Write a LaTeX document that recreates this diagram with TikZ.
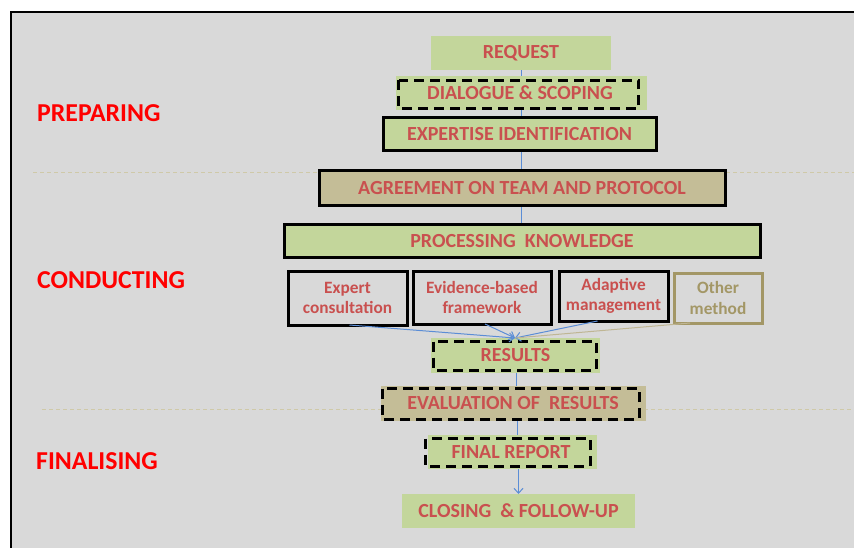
\documentclass[tikz,border=0pt]{standalone}
\usepackage{fontspec}
\setmainfont{Carlito}
\usetikzlibrary{arrows.meta}
\definecolor{bggray}{HTML}{D9D9D9}
\definecolor{boxgreen}{HTML}{C3D69B}
\definecolor{boxtan}{HTML}{C4BD97}
\definecolor{txtred}{HTML}{C9504F}
\definecolor{linkblue}{HTML}{5B8DD6}
\definecolor{olive}{HTML}{A39766}
\definecolor{sepline}{HTML}{CFC9A8}
\tikzset{
  stagebox/.style={draw=none, inner sep=0pt, outer sep=0pt, text=txtred,
    font=\fontsize{20}{23}\selectfont\bfseries},
  greenfill/.style={stagebox, fill=boxgreen},
  tanfill/.style={stagebox, fill=boxtan},
  solidframe/.style={draw=black, line width=3pt},
  dashframe/.style={draw=black, line width=3pt, dash pattern=on 10pt off 6pt},
  methodbox/.style={draw=black, line width=3pt, inner sep=0pt, outer sep=0pt,
    text=txtred, align=center, font=\fontsize{17.3}{20.5}\selectfont\bfseries},
  phase/.style={anchor=west, text=red, inner sep=0pt,
    font=\fontsize{25.8}{29}\selectfont\bfseries},
  link/.style={draw=linkblue, line width=1pt},
  linkarrow/.style={link, -{Straight Barb[length=5pt,width=9pt]}},
  separator/.style={draw=sepline, line width=1pt, dash pattern=on 4pt off 3pt},
}
\begin{document}
\begin{tikzpicture}[x=1pt,y=-1pt]
\useasboundingbox (0,0) rectangle (854,548);
\fill[white] (0,0) rectangle (854,548);
\begin{scope}
\clip (0,0) rectangle (854,548);
\draw[fill=bggray, draw=black, line width=2pt] (11,12) rectangle (870,570);
\end{scope}

% separators
\draw[separator] (33,173) -- (854,173);
\draw[separator] (42,409) -- (854,409);

% phase labels
\node[phase] (preparing) at (37,113) {PREPARING};
\node[phase] (conducting) at (37,280) {CONDUCTING};
\node[phase] (finalising) at (36,461) {FINALISING};

% links behind boxes
\coordinate (spine1) at (521,70);
\coordinate (spine2) at (521,224);
\draw[link] (spine1) -- (spine2);
\coordinate (resbot) at (516,373);
\coordinate (evaltop) at (516,387);
\coordinate (evalbot) at (517,421);
\coordinate (finaltop) at (517,435);
\draw[link] (resbot) -- (evaltop);
\draw[link] (evalbot) -- (finaltop);

% boxes
\node[greenfill, minimum width=180pt, minimum height=34pt] (request) at (521,53) {REQUEST};

\node[greenfill, minimum width=251pt, minimum height=34pt] (dialogue) at (521.5,93) {};
\draw[dashframe] (398.5,80.5) rectangle (638.5,109);
\node[stagebox] (dialoguetxt) at (520,93) {DIALOGUE \& SCOPING};

\node[greenfill, solidframe, minimum width=273pt, minimum height=33pt] (expertise) at (519.5,134) {EXPERTISE IDENTIFICATION};

\node[tanfill, solidframe, minimum width=406pt, minimum height=35pt] (agreement) at (522,188.5) {AGREEMENT ON TEAM AND PROTOCOL};

\node[greenfill, solidframe, minimum width=476pt, minimum height=32pt] (processing) at (522,241) {PROCESSING\ \ KNOWLEDGE};

\node[methodbox, minimum width=119pt, minimum height=54pt] (expert) at (347.5,298) {Expert\\consultation};
\node[methodbox, minimum width=138pt, minimum height=53pt] (evidence) at (482,297.5) {Evidence-based\\framework};
\node[methodbox, minimum width=109pt, minimum height=50pt] (adaptive) at (613.5,296) {Adaptive\\management};
\node[methodbox, draw=olive, text=olive, minimum width=88pt, minimum height=50pt] (other) at (718,298) {Other\\method};

\node[greenfill, minimum width=169pt, minimum height=35pt] (results) at (515.5,355.5) {};
\draw[dashframe] (433.5,341.5) rectangle (596,370);
\node[stagebox] (resultstxt) at (515.5,355.5) {RESULTS};

\coordinate (restop) at (515,338);
\draw[linkarrow] ([xshift=2pt]expert.south) -- (restop);
\draw[linkarrow] ([xshift=3pt]evidence.south) -- (restop);
\draw[linkarrow] ([xshift=-16pt]adaptive.south) -- (restop);
\draw[link, draw=olive!70] ([xshift=-28pt]other.south) -- (restop);

\node[tanfill, minimum width=265pt, minimum height=35pt] (evaluation) at (513.5,403.5) {};
\draw[dashframe] (382.5,388.5) rectangle (639,419);
\node[stagebox] (evaluationtxt) at (513,403.5) {EVALUATION OF\ \ RESULTS};

\node[greenfill, minimum width=169pt, minimum height=34pt] (final) at (512.5,452) {};
\draw[dashframe] (425.5,438.5) rectangle (590,466);
\node[stagebox] (finaltxt) at (511,452) {FINAL REPORT};

\node[greenfill, minimum width=233pt, minimum height=34pt] (closing) at (518.5,511) {CLOSING\ \ \& FOLLOW-UP};
\draw[linkarrow] (final.south -| closing.north) -- (closing.north);
\end{tikzpicture}
\end{document}
